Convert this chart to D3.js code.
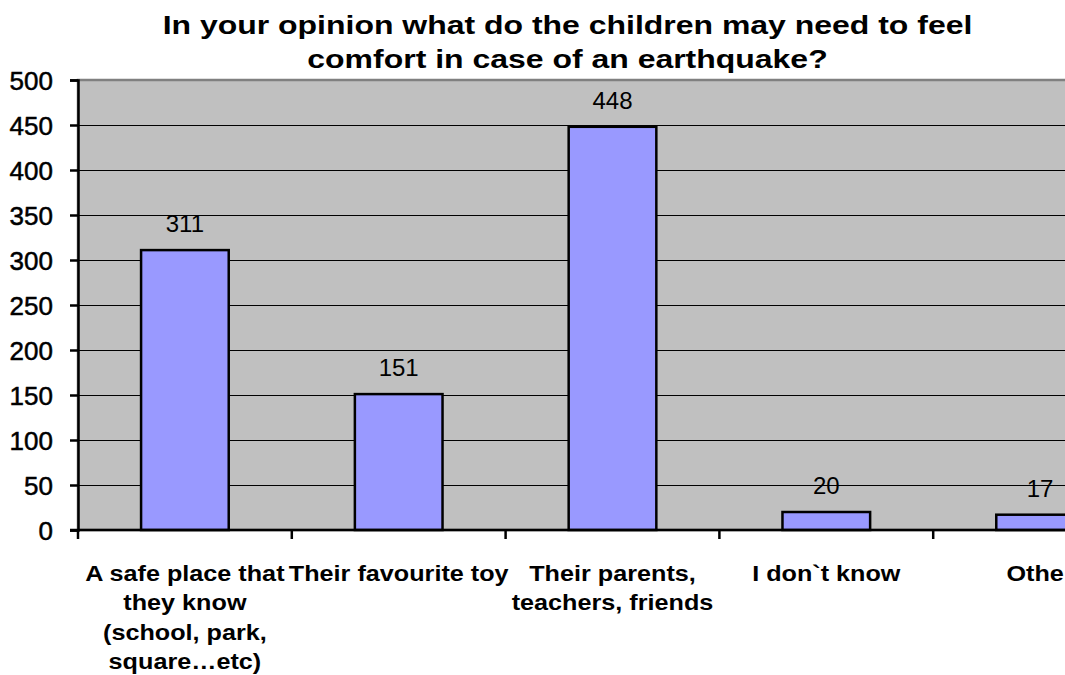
<!DOCTYPE html>
<html>
<head>
<meta charset="utf-8">
<script src="https://cdn.jsdelivr.net/npm/d3@7"></script>
<style>
  html, body { margin: 0; padding: 0; background: #ffffff; }
  svg { display: block; }
  text { font-family: "Liberation Sans", Arial, sans-serif; }
</style>
</head>
<body>
<svg id="chart" width="1065" height="675"></svg>
<script>
// Survey answers and their counts
const categories = ["safe", "toy", "parents", "dontknow", "other"];
const values = [311, 151, 448, 20, 17];
// Category labels, already broken into lines
const categoryLines = [
  ["A safe place that", "they know", "(school, park,", "square…etc)"],
  ["Their favourite toy"],
  ["Their parents,", "teachers, friends"],
  ["I don`t know"],
  ["Other"]
];
const yTicks = [0, 50, 100, 150, 200, 250, 300, 350, 400, 450, 500];
const titleLines = [
  "In your opinion what do the children may need to feel",
  "comfort in case of an earthquake?"
];

const svg = d3.select("#chart");
const plot = { left: 78, top: 80, bottom: 530, right: 1147 };

const x = d3.scaleBand()
  .domain(categories)
  .range([plot.left, plot.right])
  .padding(0);

const y = d3.scaleLinear()
  .domain([0, 500])
  .range([plot.bottom, plot.top]);

// Plot background
svg.append("rect")
  .attr("x", plot.left)
  .attr("y", plot.top)
  .attr("width", plot.right - plot.left)
  .attr("height", plot.bottom - plot.top)
  .attr("fill", "#c0c0c0")
  .attr("stroke", "#808080")
  .attr("stroke-width", 2.5);

// Horizontal gridlines
svg.append("g")
  .selectAll("line")
  .data(yTicks.filter(d => d > 0 && d < 500))
  .join("line")
  .attr("x1", plot.left)
  .attr("x2", plot.right)
  .attr("y1", d => Math.round(y(d)) + 0.5)
  .attr("y2", d => Math.round(y(d)) + 0.5)
  .attr("stroke", "#000")
  .attr("stroke-width", 1.2);

// Bars
const barFrac = 0.41;
svg.append("g")
  .selectAll("rect")
  .data(values)
  .join("rect")
  .attr("x", (d, i) => x(categories[i]) + x.bandwidth() * (1 - barFrac) / 2)
  .attr("y", d => y(d))
  .attr("width", x.bandwidth() * barFrac)
  .attr("height", d => y(0) - y(d))
  .attr("fill", "#9999ff")
  .attr("stroke", "#000")
  .attr("stroke-width", 2.5);

// Value labels above bars
svg.append("g")
  .selectAll("text")
  .data(values)
  .join("text")
  .attr("x", (d, i) => x(categories[i]) + x.bandwidth() / 2)
  .attr("y", d => y(d) - 18)
  .attr("text-anchor", "middle")
  .attr("font-size", 24)
  .attr("fill", "#000")
  .text(d => d);

// Y axis
const yAxis = svg.append("g")
  .attr("transform", `translate(${plot.left},0)`)
  .call(d3.axisLeft(y).tickValues(yTicks).tickSize(8).tickPadding(17));
yAxis.select(".domain").attr("stroke", "#000").attr("stroke-width", 2.5);
yAxis.selectAll(".tick line").attr("stroke", "#000").attr("stroke-width", 2.5);
yAxis.selectAll(".tick text")
  .attr("font-size", 26)
  .attr("font-family", "Liberation Sans, Arial, sans-serif")
  .attr("fill", "#000")
  .attr("stroke", "#000")
  .attr("stroke-width", 0.5)
  .attr("dy", "0.36em");

// X axis: boundary ticks between categories
const boundaries = categories.map(c => x(c)).concat([plot.right]);
const xAxis = svg.append("g");
xAxis.append("line")
  .attr("x1", plot.left - 8)
  .attr("x2", plot.right)
  .attr("y1", plot.bottom)
  .attr("y2", plot.bottom)
  .attr("stroke", "#000")
  .attr("stroke-width", 2.5);
xAxis.selectAll("line.tk")
  .data(boundaries)
  .join("line")
  .attr("class", "tk")
  .attr("x1", d => d)
  .attr("x2", d => d)
  .attr("y1", plot.bottom)
  .attr("y2", plot.bottom + 9)
  .attr("stroke", "#000")
  .attr("stroke-width", 2.5);

// Category labels (slightly widened glyphs)
const catGroup = svg.append("g");
categoryLines.forEach((lines, i) => {
  const cx = x(categories[i]) + x.bandwidth() / 2;
  const t = catGroup.append("text")
    .attr("transform", `translate(${cx},581) scale(1.12,1)`)
    .attr("text-anchor", "middle")
    .attr("font-size", 22.5)
    .attr("font-weight", "bold")
    .attr("fill", "#000");
  lines.forEach((ln, j) => {
    t.append("tspan")
      .attr("x", 0)
      .attr("y", j * 29.3)
      .text(ln);
  });
});

// Title
const title = svg.append("text")
  .attr("transform", "translate(567.5,34) scale(1.23,1)")
  .attr("text-anchor", "middle")
  .attr("font-size", 26)
  .attr("font-weight", "bold")
  .attr("fill", "#000");
titleLines.forEach((ln, j) => {
  title.append("tspan")
    .attr("x", 0)
    .attr("y", j * 34)
    .text(ln);
});
</script>
</body>
</html>
